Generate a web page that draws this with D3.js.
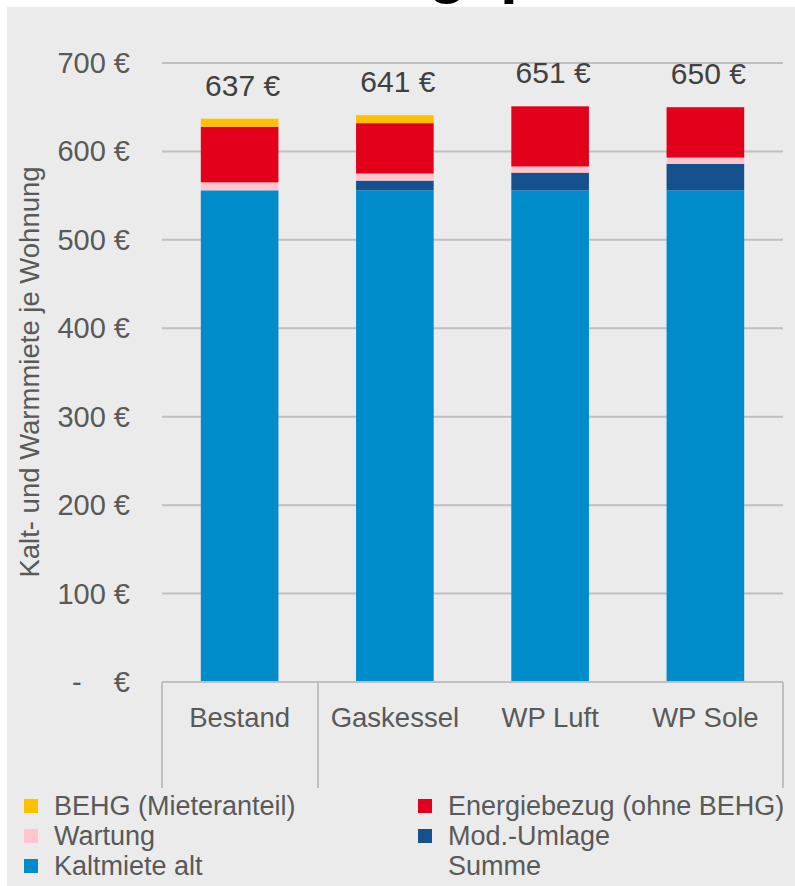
<!DOCTYPE html>
<html><head><meta charset="utf-8">
<script src="https://cdn.jsdelivr.net/npm/d3@7"></script>
<style>body{margin:0;background:#fff}svg{display:block}text{font-family:"Liberation Sans",Arial,sans-serif}</style>
</head><body>
<svg id="c" width="795" height="886"></svg>
<script>
const categories = ["Bestand", "Gaskessel", "WP Luft", "WP Sole"];
const kaltmiete = [556, 556, 556, 556];
const modUmlage = [0, 11, 20, 30];
const wartung = [9, 8, 7, 7];
const energie = [63, 57, 68, 57];
const behg = [9, 9, 0, 0];
const summe = [637, 641, 651, 650];
const yTicks = [0, 100, 200, 300, 400, 500, 600, 700];

const seriesDefs = [
  {key: "kalt", name: "Kaltmiete alt", values: kaltmiete, color: "#008bca"},
  {key: "mod", name: "Mod.-Umlage", values: modUmlage, color: "#16518f"},
  {key: "wart", name: "Wartung", values: wartung, color: "#ffc4cc"},
  {key: "energie", name: "Energiebezug (ohne BEHG)", values: energie, color: "#e2001a"},
  {key: "behg", name: "BEHG (Mieteranteil)", values: behg, color: "#ffc000"}
];

const svg = d3.select("#c");
const textColor = "#595959";
const gridColor = "#bfbfbf";

// partially visible title (clipped by the panel)
const title = svg.append("text").attr("y", -9).attr("font-size", 64).attr("font-weight", "bold").attr("fill", "#000");
title.append("tspan").attr("x", 428).text("g");
title.append("tspan").attr("x", 500).text("p");

svg.append("rect").attr("x", 7).attr("y", 7).attr("width", 788).attr("height", 879).attr("fill", "#ebebeb");

const x = d3.scaleBand().domain(categories).range([162, 783]).paddingInner(0.5).paddingOuter(0.25);
const y = d3.scaleLinear().domain([0, 700]).range([682, 63]);

// gridlines
svg.append("g").selectAll("line").data(yTicks.filter(d => d > 0)).join("line")
  .attr("x1", 162).attr("x2", 783).attr("y1", d => y(d)).attr("y2", d => y(d))
  .attr("stroke", gridColor).attr("stroke-width", 2);

// y tick labels
svg.append("g").selectAll("text").data(yTicks).join("text")
  .attr("x", 130).attr("y", d => y(d) + 10).attr("text-anchor", "end")
  .attr("font-size", 29).attr("fill", textColor).style("white-space", "pre")
  .text(d => d === 0 ? "-    €" : d + " €");

// stacked bars
const table = categories.map((c, i) => {
  const o = {cat: c};
  seriesDefs.forEach(s => o[s.key] = s.values[i]);
  return o;
});
const stack = d3.stack().keys(seriesDefs.map(s => s.key))(table);
svg.append("g").selectAll("g").data(stack).join("g")
  .attr("fill", (d, i) => seriesDefs[i].color)
  .selectAll("rect").data(d => d).join("rect")
  .attr("x", d => x(d.data.cat)).attr("width", x.bandwidth())
  .attr("y", d => y(d[1])).attr("height", d => y(d[0]) - y(d[1]));

// x axis
svg.append("line").attr("x1", 162).attr("x2", 783).attr("y1", y(0)).attr("y2", y(0))
  .attr("stroke", gridColor).attr("stroke-width", 2);
const sepX = [162, 318, 783];
svg.append("g").selectAll("line").data(sepX).join("line")
  .attr("x1", d => d).attr("x2", d => d).attr("y1", y(0)).attr("y2", 788)
  .attr("stroke", gridColor).attr("stroke-width", 2);
svg.append("g").selectAll("text").data(categories).join("text")
  .attr("x", d => x(d) + x.bandwidth() / 2).attr("y", 727).attr("text-anchor", "middle")
  .attr("font-size", 27.5).attr("fill", textColor).text(d => d);

// sum labels
svg.append("g").selectAll("text").data(summe).join("text")
  .attr("x", (d, i) => x(categories[i]) + x.bandwidth() / 2 + 3).attr("y", d => y(d) - 23)
  .attr("text-anchor", "middle").attr("font-size", 30).attr("fill", "#404040").text(d => d + " €");

// y axis title
svg.append("text").attr("transform", "translate(39,372) rotate(-90)").attr("text-anchor", "middle")
  .attr("font-size", 27.5).attr("fill", textColor).text("Kalt- und Warmmiete je Wohnung");

// legend
const legendItems = [
  {name: "BEHG (Mieteranteil)", color: "#ffc000", col: 0, row: 0},
  {name: "Energiebezug (ohne BEHG)", color: "#e2001a", col: 1, row: 0},
  {name: "Wartung", color: "#ffc4cc", col: 0, row: 1},
  {name: "Mod.-Umlage", color: "#16518f", col: 1, row: 1},
  {name: "Kaltmiete alt", color: "#008bca", col: 0, row: 2},
  {name: "Summe", color: null, col: 1, row: 2}
];
const lg = svg.append("g").selectAll("g").data(legendItems).join("g")
  .attr("transform", d => `translate(${d.col ? 418 : 24},${806 + d.row * 30})`);
lg.filter(d => d.color).append("rect").attr("x", 0).attr("y", -7).attr("width", 14).attr("height", 14).attr("fill", d => d.color);
lg.append("text").attr("x", 30).attr("y", 9).attr("font-size", 27).attr("fill", textColor).text(d => d.name);
</script>
</body></html>
